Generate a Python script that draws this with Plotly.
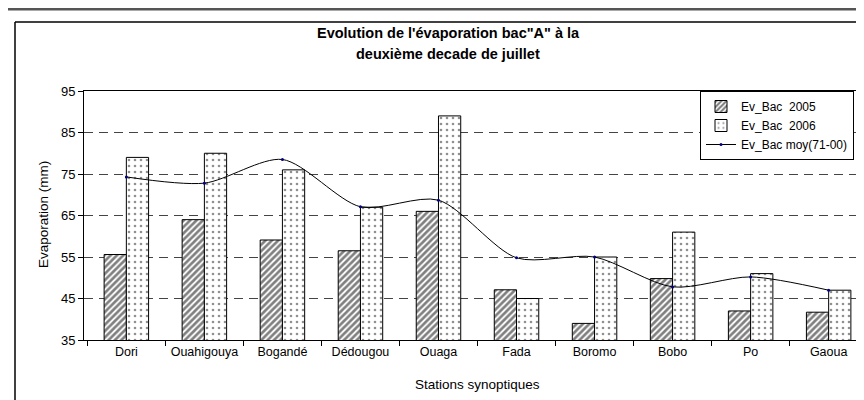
import plotly.graph_objects as go

stations = ["Dori", "Ouahigouya", "Bogandé", "Dédougou", "Ouaga", "Fada", "Boromo", "Bobo", "Po", "Gaoua"]
ev_2005 = [55.6, 64.0, 59.1, 56.5, 66.0, 47.1, 39.0, 49.8, 42.0, 41.7]
ev_2006 = [79.0, 80.0, 76.0, 67.0, 89.0, 45.0, 55.0, 61.0, 51.0, 47.0]
ev_moy = [74.3, 72.8, 78.5, 67.1, 68.7, 54.8, 55.0, 47.8, 50.2, 47.0]
y_ticks = [35, 45, 55, 65, 75, 85, 95]

W, H = 864, 400
L, R, T, B = 76, 1, 83, 68
PW, PH = W - L - R, H - T - B

def px_x(px):
    return (px - L) / PW

def px_y(py):
    return (H - B - py) / PH

FONT = "Liberation Sans, Arial, sans-serif"

fig = go.Figure()
fig.add_trace(go.Bar(
    x=stations, y=ev_2005, name="Ev_Bac  2005",
    marker=dict(color="white", line=dict(color="black", width=1),
                pattern=dict(shape="/", fgcolor="black", bgcolor="white", size=4.5, solidity=0.6)),
))
fig.add_trace(go.Bar(
    x=stations, y=ev_2006, name="Ev_Bac  2006",
    marker=dict(color="white", line=dict(color="black", width=1),
                pattern=dict(shape=".", fgcolor="#222222", bgcolor="white", size=6, solidity=0.15)),
))
fig.add_trace(go.Scatter(
    x=stations, y=ev_moy, name="Ev_Bac moy(71-00)", mode="lines+markers",
    line=dict(color="black", width=1, shape="spline", smoothing=0.8),
    marker=dict(color="#000080", size=3),
))

fig.update_layout(
    width=W, height=H,
    margin=dict(l=L, r=R, t=T, b=B, pad=0),
    paper_bgcolor="white", plot_bgcolor="white",
    font=dict(family=FONT, size=13, color="black"),
    barmode="group", bargap=0.43, bargroupgap=0,
    showlegend=True,
    legend=dict(x=px_x(692), y=1.0, xanchor="left", yanchor="top",
                bordercolor="black", borderwidth=1, bgcolor="white",
                font=dict(family=FONT, size=12), tracegroupgap=0,
                itemwidth=30),
    xaxis=dict(type="category", showline=True, linecolor="black", linewidth=1,
               mirror=True, ticks="outside", ticklen=5, tickcolor="black",
               tickson="boundaries", showgrid=False, tickangle=0, automargin=False,
               tickfont=dict(family=FONT, size=12.5)),
    yaxis=dict(range=[35, 95], tickvals=y_ticks, showline=True, linecolor="black",
               linewidth=1, ticks="outside", ticklen=5, tickcolor="black",
               showgrid=True, gridcolor="#444444", gridwidth=1, griddash="9px,6px",
               zeroline=False, automargin=False, tickfont=dict(family=FONT, size=13)),
    annotations=[
        dict(text="<b>Evolution de l'évaporation bac\"A\" à la</b>", xref="paper", yref="paper",
             x=px_x(440), y=px_y(25), showarrow=False, xanchor="center", yanchor="middle",
             font=dict(family=FONT, size=14.5, color="black")),
        dict(text="<b>deuxième decade de juillet</b>", xref="paper", yref="paper",
             x=px_x(440), y=px_y(46), showarrow=False, xanchor="center", yanchor="middle",
             font=dict(family=FONT, size=14.5, color="black")),
        dict(text="Evaporation (mm)", xref="paper", yref="paper", textangle=-90,
             x=px_x(35), y=px_y(207), showarrow=False, xanchor="center", yanchor="middle",
             font=dict(family=FONT, size=13.5)),
        dict(text="Stations synoptiques", xref="paper", yref="paper",
             x=0.5, y=px_y(376), showarrow=False, xanchor="center", yanchor="middle",
             font=dict(family=FONT, size=13.5)),
    ],
    shapes=[
        dict(type="line", xref="paper", yref="paper", x0=px_x(0), x1=px_x(864),
             y0=px_y(1), y1=px_y(1), line=dict(color="#555555", width=3)),
        dict(type="line", xref="paper", yref="paper", x0=px_x(7), x1=px_x(864),
             y0=px_y(14), y1=px_y(14), line=dict(color="black", width=1.5)),
        dict(type="line", xref="paper", yref="paper", x0=px_x(7), x1=px_x(7),
             y0=px_y(14), y1=px_y(400), line=dict(color="black", width=1.5)),
    ],
)

fig.write_html("out.html")
